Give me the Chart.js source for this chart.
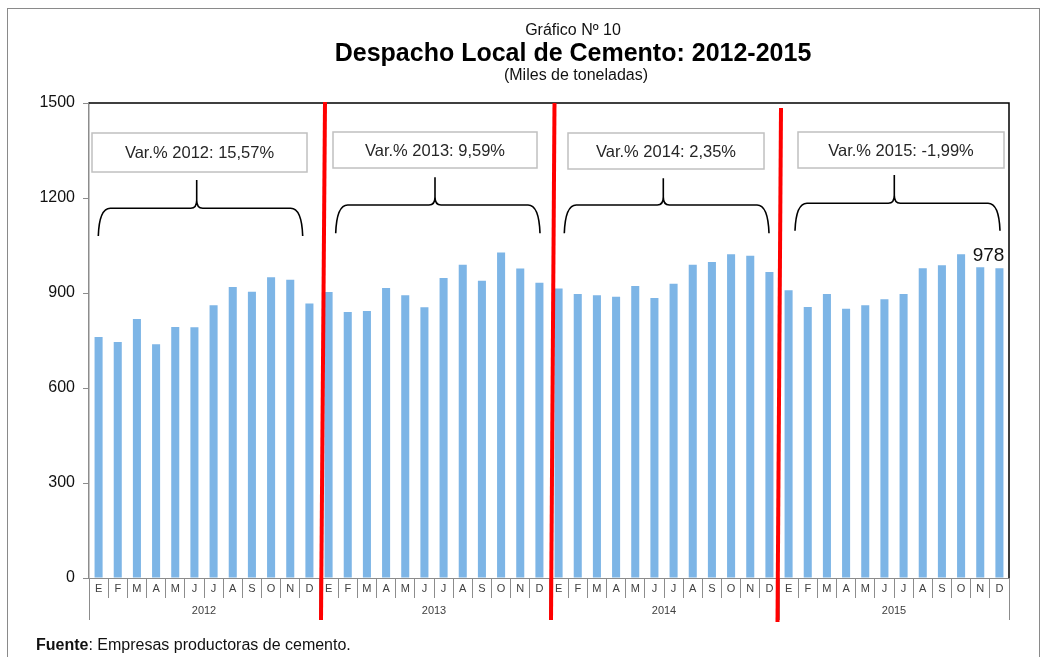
<!DOCTYPE html>
<html>
<head>
<meta charset="utf-8">
<script src="https://cdn.jsdelivr.net/npm/chart.js@4.4.0/dist/chart.umd.min.js"></script>
<style>
  html, body { margin: 0; padding: 0; background: #ffffff; }
  body { width: 1050px; height: 657px; position: relative; overflow: hidden; font-family: "Liberation Sans", Arial, sans-serif; }
  #c { position: absolute; left: 0; top: 0; }
  .t { position: absolute; white-space: nowrap; transform: translate(-50%, -50%); color: #000; line-height: 1; }
  #frame { position: absolute; left: 7px; top: 8px; width: 1033px; height: 680px; border: 1.5px solid #8a8a8a; box-sizing: border-box; }
  #src { position: absolute; left: 36px; top: 637px; font-size: 16px; color: #111; white-space: nowrap; line-height: 1; }
</style>
</head>
<body>
<div id="frame"></div>
<canvas id="c" width="1050" height="657"></canvas>
<div class="t" style="left:573px; top:30px; font-size:16px; color:#111;">Gráfico Nº 10</div>
<div class="t" style="left:573px; top:52px; font-size:25px; font-weight:bold;">Despacho Local de Cemento: 2012-2015</div>
<div class="t" style="left:576px; top:75px; font-size:16px; color:#111;">(Miles de toneladas)</div>
<div id="src"><b>Fuente</b>: Empresas productoras de cemento.</div>
<script>
// ---- Data ----
const months = ['E','F','M','A','M','J','J','A','S','O','N','D'];
const years = ['2012','2013','2014','2015'];
const despacho2012 = [761, 745, 818, 738, 793, 792, 861, 919, 904, 950, 942, 867];
const despacho2013 = [903, 840, 843, 916, 893, 855, 947, 989, 939, 1028, 977, 932];
const despacho2014 = [914, 897, 893, 888, 922, 884, 929, 989, 998, 1022, 1018, 966];
const despacho2015 = [909, 856, 897, 850, 861, 880, 897, 978, 988, 1022, 981, 978];
const varLabels = ['Var.% 2012: 15,57%', 'Var.% 2013: 9,59%', 'Var.% 2014: 2,35%', 'Var.% 2015: -1,99%'];
const yTicks = [0, 300, 600, 900, 1200, 1500];
const lastLabel = '978';

// ---- Build library structures ----
const labels = [].concat(months, months, months, months);
const values = [].concat(despacho2012, despacho2013, despacho2014, despacho2015);

// ---- Annotation layout (pixels) ----
const boxRects = [[92,133,307,172],[333,132,537,168],[568,133,764,169],[798,132,1004,168]];
const braces = [
  [98.3, 302.7, 196.7, 236, 208.3, 180],
  [335.7, 540, 435, 233.3, 205, 177.3],
  [564.3, 769, 663.3, 233.3, 205, 178.3],
  [795, 1000, 894.3, 230.7, 203.3, 175]
];
const redLines = [ // [topOffset, topY, bottomOffset, bottomY] relative to year boundary
  [6, 102, 2, 620],
  [5.5, 103, 2, 620],
  [2, 108, -1.5, 622]
];

const FONT = '"Liberation Sans", Arial, sans-serif';
const GRAY = '#8c8c8c';

function drawBrace(ctx, b) {
  const [x0, x1, xs, yb, yh, ys] = b;
  ctx.beginPath();
  ctx.moveTo(x0, yb);
  ctx.quadraticCurveTo(x0 + 1, yh, x0 + 12, yh);
  ctx.lineTo(xs - 6, yh);
  ctx.quadraticCurveTo(xs, yh, xs, yh - 8);
  ctx.lineTo(xs, ys);
  ctx.moveTo(xs, yh - 8);
  ctx.quadraticCurveTo(xs, yh, xs + 6, yh);
  ctx.lineTo(x1 - 12, yh);
  ctx.quadraticCurveTo(x1 - 1, yh, x1, yb);
  ctx.stroke();
}

const decor = {
  id: 'decor',
  afterDraw(chart) {
    const ctx = chart.ctx;
    const ca = chart.chartArea;
    const x = chart.scales.x;
    const n = labels.length;
    const cw = (x.getPixelForValue(1) - x.getPixelForValue(0));
    const yearEdge = i => x.getPixelForValue(i * 12) - cw / 2;
    ctx.save();
    // plot frame top & right
    ctx.strokeStyle = '#000';
    ctx.lineWidth = 1.5;
    ctx.beginPath();
    ctx.moveTo(ca.left, ca.top);
    ctx.lineTo(ca.right, ca.top);
    ctx.lineTo(ca.right, ca.bottom);
    ctx.stroke();
    // year dividers & labels
    ctx.strokeStyle = GRAY;
    ctx.lineWidth = 1;
    for (let i = 0; i <= years.length; i++) {
      const px = Math.round(yearEdge(i)) + 0.5;
      ctx.beginPath();
      ctx.moveTo(px, ca.bottom);
      ctx.lineTo(px, ca.bottom + 42);
      ctx.stroke();
    }
    ctx.fillStyle = '#404040';
    ctx.font = '11px ' + FONT;
    ctx.textAlign = 'center';
    ctx.textBaseline = 'middle';
    years.forEach((yr, i) => {
      ctx.fillText(yr, (yearEdge(i) + yearEdge(i + 1)) / 2, ca.bottom + 33);
    });
    // boxes
    ctx.font = '16.5px ' + FONT;
    boxRects.forEach((r, i) => {
      ctx.fillStyle = '#fff';
      ctx.fillRect(r[0], r[1], r[2] - r[0], r[3] - r[1]);
      ctx.strokeStyle = '#c0c0c0';
      ctx.lineWidth = 1.5;
      ctx.strokeRect(r[0], r[1], r[2] - r[0], r[3] - r[1]);
      ctx.fillStyle = '#262626';
      ctx.fillText(varLabels[i], (r[0] + r[2]) / 2, (r[1] + r[3]) / 2 + 1);
    });
    // braces
    ctx.strokeStyle = '#000';
    ctx.lineWidth = 1.6;
    braces.forEach(b => drawBrace(ctx, b));
    // red separator lines
    ctx.strokeStyle = '#ff0000';
    ctx.lineWidth = 4;
    redLines.forEach((l, i) => {
      const e = yearEdge(i + 1);
      ctx.beginPath();
      ctx.moveTo(e + l[0], l[1]);
      ctx.lineTo(e + l[2], l[3]);
      ctx.stroke();
    });
    // last value label
    const meta = chart.getDatasetMeta(0);
    const bar = meta.data[n - 1];
    ctx.fillStyle = '#111';
    ctx.font = '19px ' + FONT;
    ctx.textAlign = 'right';
    ctx.textBaseline = 'alphabetic';
    ctx.fillText(lastLabel, bar.x + 5, bar.y - 7);
    ctx.restore();
  }
};

new Chart(document.getElementById('c'), {
  type: 'bar',
  data: {
    labels: labels,
    datasets: [{
      data: values,
      backgroundColor: '#7db5e6',
      borderWidth: 0,
      barPercentage: 0.42,
      categoryPercentage: 1.0
    }]
  },
  options: {
    responsive: false,
    devicePixelRatio: 1,
    animation: false,
    layout: { padding: { left: 9, right: 41, top: 103, bottom: 34 } },
    plugins: { legend: { display: false }, tooltip: { enabled: false }, title: { display: false } },
    scales: {
      x: {
        type: 'category',
        offset: true,
        afterFit: s => { s.height = 45; },
        grid: { display: true, drawOnChartArea: false, drawTicks: true, tickLength: 20, color: GRAY, offset: true },
        border: { display: true, color: GRAY, width: 1 },
        ticks: { autoSkip: false, maxRotation: 0, minRotation: 0, padding: -16, color: '#404040', font: { family: FONT, size: 11 } }
      },
      y: {
        min: 0, max: 1500,
        afterFit: s => { s.width = 80; },
        afterBuildTicks: s => { s.ticks = yTicks.map(v => ({ value: v })); },
        grid: { display: true, drawOnChartArea: false, drawTicks: true, tickLength: 6, color: GRAY },
        border: { display: true, color: GRAY, width: 1.5 },
        ticks: { padding: 8, color: '#111', font: { family: FONT, size: 16 }, callback: v => String(v) }
      }
    }
  },
  plugins: [decor]
});
</script>
</body>
</html>
